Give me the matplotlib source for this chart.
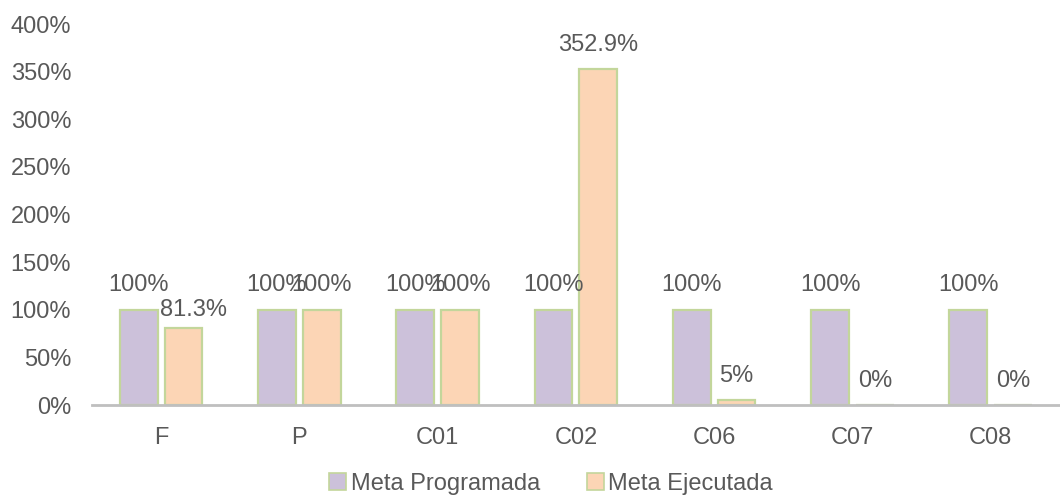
import matplotlib
matplotlib.use("Agg")
import matplotlib.pyplot as plt
import numpy as np
from matplotlib.ticker import FuncFormatter
from matplotlib.patches import Patch

categories = ["F", "P", "C01", "C02", "C06", "C07", "C08"]
meta_programada = [100, 100, 100, 100, 100, 100, 100]
meta_ejecutada = [81.3, 100, 100, 352.9, 5, 0, 0]
series_names = ["Meta Programada", "Meta Ejecutada"]
y_ticks = [0, 50, 100, 150, 200, 250, 300, 350, 400]

plt.rcParams['font.family'] = ['Liberation Sans', 'DejaVu Sans']
TXT = "#595959"
PURPLE = "#CCC1DA"
ORANGE = "#FCD5B5"
EDGE = "#C3D69B"
FS = 17

fig = plt.figure(figsize=(10.6, 4.98), dpi=100)
ax = fig.add_axes([0.0868, 0.1867, 0.913, 0.7651])

x = np.arange(len(categories))
w = 0.274
off = 0.162
b1 = ax.bar(x - off, meta_programada, w, color=PURPLE, edgecolor=EDGE, linewidth=1.6)
b2 = ax.bar(x + off, meta_ejecutada, w, color=ORANGE, edgecolor=EDGE, linewidth=1.6)

def fmt(v):
    s = f"{v:.1f}"
    if s.endswith(".0"):
        s = s[:-2]
    return s + "%"

# manual label nudge (points) as in the reference
nudge = {(1, 0): (7, -5)}

for si, (bars, vals) in enumerate(((b1, meta_programada), (b2, meta_ejecutada))):
    for i, (r, v) in enumerate(zip(bars, vals)):
        dx, dy = nudge.get((si, i), (0, 0))
        ax.annotate(fmt(v), (r.get_x() + r.get_width() / 2, v),
                    xytext=(dx, 17.5 + dy), textcoords="offset points",
                    ha="center", va="center", fontsize=FS, color=TXT)

ax.set_xlim(-0.5, len(categories) - 0.5)
ax.set_ylim(0, 400)
ax.set_yticks(y_ticks)
ax.yaxis.set_major_formatter(FuncFormatter(lambda v, p: f"{int(v)}%"))
ax.set_xticks(x)
ax.set_xticklabels(categories)
ax.tick_params(axis="both", length=0, labelsize=FS, colors=TXT)
ax.tick_params(axis="x", pad=16)
ax.tick_params(axis="y", pad=15)
for s in ["top", "right", "left"]:
    ax.spines[s].set_visible(False)
ax.spines["bottom"].set_color("#BFBFBF")
ax.spines["bottom"].set_linewidth(2)

handles = [Patch(facecolor=PURPLE, edgecolor=EDGE, linewidth=1.2),
           Patch(facecolor=ORANGE, edgecolor=EDGE, linewidth=1.2)]
fig.legend(handles, series_names, loc="lower center", bbox_to_anchor=(0.52, -0.036),
           ncol=2, frameon=False, fontsize=FS, handlelength=0.7, handleheight=0.7,
           handletextpad=0.2, columnspacing=2.0, labelcolor=TXT)

fig.savefig("out.png", dpi=100)
